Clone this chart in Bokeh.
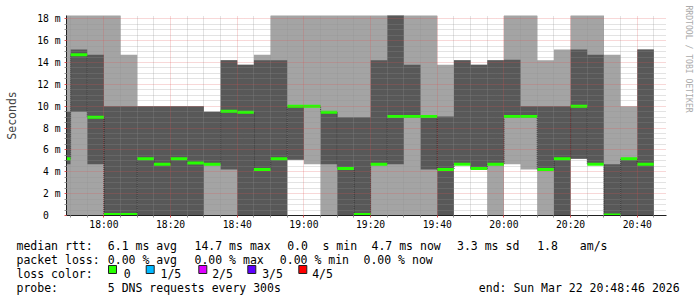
import numpy as np
from bokeh.plotting import figure
from bokeh.layouts import column, row
from bokeh.models import FixedTicker, DatetimeTickFormatter, Range1d
from bokeh.core.properties import value
from bokeh.embed import file_html
from bokeh.resources import INLINE

# ---------------- data ----------------
first_step = "2026-03-22T17:45:00"
step_minutes = 5
graph_end = "2026-03-22T20:48:46"
graph_span_minutes = 180
y_max_ms = 18.3

# five sorted pings per 5-minute step (milliseconds)
ping_1 = [0, 0, 0, 0, 0, 0, 0, 0, 0, 0, 0, 0, 0, 0, 5.1, 4.7, 0, 0, 0, 0,
          0, 0, 0, 0, 4.7, 4.2, 0, 4.7, 4.2, 0, 0, 5.2, 4.7, 0, 0, 0]
ping_2 = [4.7, 9.5, 4.7, 0, 0, 0, 0, 0, 0, 4.7, 4.2, 0, 0, 0, 5.1, 10.0, 4.7, 0, 0, 4.7,
          4.7, 9.05, 4.2, 0, 4.7, 4.2, 4.7, 9.05, 9.05, 4.2, 0, 5.2, 4.7, 0, 0, 0]
median_rtt = [5.2, 14.7, 9.0, 0.1, 0.1, 5.2, 4.7, 5.2, 4.8, 4.7, 9.55, 9.45, 4.2, 5.2, 10.0,
              10.0, 9.45, 4.3, 0.1, 4.7, 9.05, 9.05, 9.05, 4.2, 4.7, 4.3, 4.7, 9.05, 9.05,
              4.2, 5.2, 10.0, 4.7, 0.05, 5.2, 4.7]
ping_4 = [9.5, 15.2, 14.7, 10.0, 10.0, 10.0, 10.0, 10.0, 10.0, 9.5, 14.2, 13.8, 14.2, 14.2,
          10.0, 10.0, 9.45, 9.0, 9.0, 14.2, 18.6, 13.8, 9.05, 9.05, 14.2, 13.8, 14.2, 14.25,
          10.0, 10.0, 10.0, 15.2, 14.7, 4.7, 5.2, 15.2]
ping_5 = [18.6, 18.6, 18.6, 18.6, 14.7, 10.0, 10.0, 10.0, 10.0, 9.5, 14.2, 13.8, 14.7, 18.6,
          18.6, 18.6, 18.6, 18.6, 18.6, 18.6, 18.6, 18.6, 18.6, 13.8, 14.2, 13.8, 14.2, 18.6,
          18.6, 14.2, 15.2, 18.6, 18.6, 14.7, 10.0, 15.2]

y_tick_values = [0, 2, 4, 6, 8, 10, 12, 14, 16, 18]
y_tick_labels = ["0  ", "2 m", "4 m", "6 m", "8 m", "10 m", "12 m", "14 m", "16 m", "18 m"]
x_tick_times = ["2026-03-22T18:00", "2026-03-22T18:20", "2026-03-22T18:40",
                "2026-03-22T19:00", "2026-03-22T19:20", "2026-03-22T19:40",
                "2026-03-22T20:00", "2026-03-22T20:20", "2026-03-22T20:40"]

loss_labels = ["0", "1/5", "2/5", "3/5", "4/5"]
loss_colors = ["#26ff00", "#00b8ff", "#dd00ff", "#5e00ff", "#ff0000"]

legend_rows = [
    [("median rtt:", 16), ("6.1 ms avg", 107.3), ("14.7 ms max", 194), ("0.0", 286.7),
     ("s min", 322), ("4.7 ms now", 371), ("3.3 ms sd", 456.5), ("1.8", 536.7), ("am/s", 579.3)],
    [("packet loss:", 16), ("0.00 % avg", 107.3), ("0.00 % max", 194), ("0.00 % min", 279.3),
     ("0.00 % now", 363)],
    [("loss color:", 16)],
    [("probe:", 16), ("5 DNS requests every 300s", 107.3),
     ("end: Sun Mar 22 20:48:46 2026", 478.3)],
]
watermark = "RRDTOOL / TOBI OETIKER"

# ---------------- derived ----------------
MIN = 60_000
def ms(s):
    return float(np.datetime64(s).astype("datetime64[ms]").astype(np.int64))

n = len(median_rtt)
t_first = ms(first_step)
starts = [t_first + i * step_minutes * MIN for i in range(n)]
ends = [s + step_minutes * MIN for s in starts]
edges = starts + [ends[-1]]
def ext(a):
    return list(a) + [a[-1]]

x_end = ms(graph_end)
x_start = x_end - graph_span_minutes * MIN

x_major = [ms(t) for t in x_tick_times]
x_minor = []
t = x_major[0] - 20 * MIN
while t < x_end:
    if t > x_start and t not in x_major:
        x_minor.append(t)
    t += step_minutes * MIN
y_minor = [v / 2 for v in range(0, int(y_max_ms * 2) + 1) if (v / 2) not in y_tick_values]

W = 697
W_WM = 14
H_MAIN, H_LEG = 232, 65
LEFT, TOP, BOTTOM = 66, 15, 17
RIGHT = W - W_WM - 666
FONT = "DejaVu Sans Mono"
LIGHT, DARK = "#a4a4a4", "#585858"

p = figure(width=W - W_WM, height=H_MAIN, title=None, x_axis_type="datetime",
           x_range=Range1d(x_start, x_end), y_range=Range1d(0, y_max_ms),
           output_backend="svg", toolbar_location=None,
           min_border_left=LEFT, min_border_right=RIGHT,
           min_border_top=TOP, min_border_bottom=BOTTOM)
p.frame_align = False
p.outline_line_color = None
p.background_fill_color = "white"
p.border_fill_color = "white"

# smoke
p.varea_step(x=edges, y1=ext(ping_1), y2=ext(ping_5), step_mode="after", fill_color=LIGHT)
p.varea_step(x=edges, y1=ext(ping_2), y2=ext(ping_4), step_mode="after", fill_color=DARK)
# median
p.step(x=edges, y=ext(median_rtt), mode="after", line_color="#202020", line_width=1,
       line_dash="1 1")
p.segment(x0=starts, x1=ends, y0=median_rtt, y1=median_rtt, line_color=loss_colors[0],
          line_width=3, line_cap="butt")

# axes
p.xaxis.ticker = FixedTicker(ticks=x_major, minor_ticks=x_minor)
p.xaxis.formatter = DatetimeTickFormatter(minsec="%H:%M", minutes="%H:%M",
                                          hourmin="%H:%M", hours="%H:%M")
p.yaxis.ticker = FixedTicker(ticks=y_tick_values, minor_ticks=y_minor)
p.yaxis.major_label_overrides = dict(zip(y_tick_values, y_tick_labels))

for ax in (p.xaxis[0], p.yaxis[0]):
    ax.axis_line_color = "#202020"
    ax.major_tick_in = 0
    ax.minor_tick_in = 0
    ax.major_tick_out = 2
    ax.minor_tick_out = 2
    ax.major_tick_line_color = "#de4f4f"
    ax.minor_tick_line_color = "#8f8f8f"
    ax.major_label_text_font = FONT
    ax.major_label_text_font_size = "9.7px"
    ax.major_label_text_color = "black"
p.xaxis.major_label_standoff = 1
p.yaxis.major_label_standoff = 4
p.yaxis.axis_label = "Seconds"
p.yaxis.axis_label_text_font = FONT
p.yaxis.axis_label_text_font_size = "11.5px"
p.yaxis.axis_label_text_font_style = "normal"
p.yaxis.axis_label_standoff = 15

# grid on top of the smoke
for g in (p.xgrid[0], p.ygrid[0]):
    g.level = "annotation"
    g.grid_line_color = "#de4f4f"
    g.grid_line_alpha = 0.45
    g.grid_line_dash = "1 1"
    g.minor_grid_line_color = "#8f8f8f"
    g.minor_grid_line_alpha = 0.5
    g.minor_grid_line_dash = "1 1"

# ---------------- watermark strip (right) ----------------
wm = figure(width=W_WM, height=H_MAIN, x_range=Range1d(W - W_WM, W), y_range=Range1d(H_MAIN, 0),
            x_axis_type=None, y_axis_type=None, output_backend="svg", toolbar_location=None,
            min_border_left=0, min_border_right=0, min_border_top=0, min_border_bottom=0,
            title=None)
wm.frame_align = False
wm.outline_line_color = None
wm.background_fill_color = "white"
wm.border_fill_color = "white"
wm.text(x=[688], y=[5], text=[watermark], angle=-np.pi / 2, text_font=value(FONT),
        text_font_size=value("8.1px"), text_align="left", text_baseline="middle",
        text_color="#aaaaaa")

# ---------------- legend strip ----------------
q = figure(width=W, height=H_LEG, x_range=Range1d(0, W), y_range=Range1d(H_MAIN + H_LEG, H_MAIN),
           x_axis_type=None, y_axis_type=None, output_backend="svg", toolbar_location=None,
           min_border_left=0, min_border_right=0, min_border_top=0, min_border_bottom=0,
           title=None)
q.frame_align = False
q.outline_line_color = None
q.background_fill_color = "white"
q.border_fill_color = "white"

baselines = [245, 259, 273, 287]
tx, ty, tt = [], [], []
for rw, base in zip(legend_rows, baselines):
    for txt, X in rw:
        tx.append(X); ty.append(base); tt.append(txt)

box_x = [108, 145.7, 198.3, 247.3, 298.3]
lab_x = [123.3, 160, 211.7, 261.7, 311.7]
for lab, lx in zip(loss_labels, lab_x):
    tx.append(lx); ty.append(baselines[2]); tt.append(lab)

q.text(x=tx, y=ty, text=tt, text_font=value(FONT), text_font_size=value("11.5px"),
       text_align="left", text_baseline="alphabetic", text_color="black")
q.quad(left=box_x, right=[b + 8 for b in box_x], top=[265] * 5, bottom=[273] * 5,
       fill_color=loss_colors, line_color="#202020", line_width=1)

layout = column(row(p, wm, spacing=0), q, spacing=0)
open("out.html", "w").write(file_html(layout, INLINE))
